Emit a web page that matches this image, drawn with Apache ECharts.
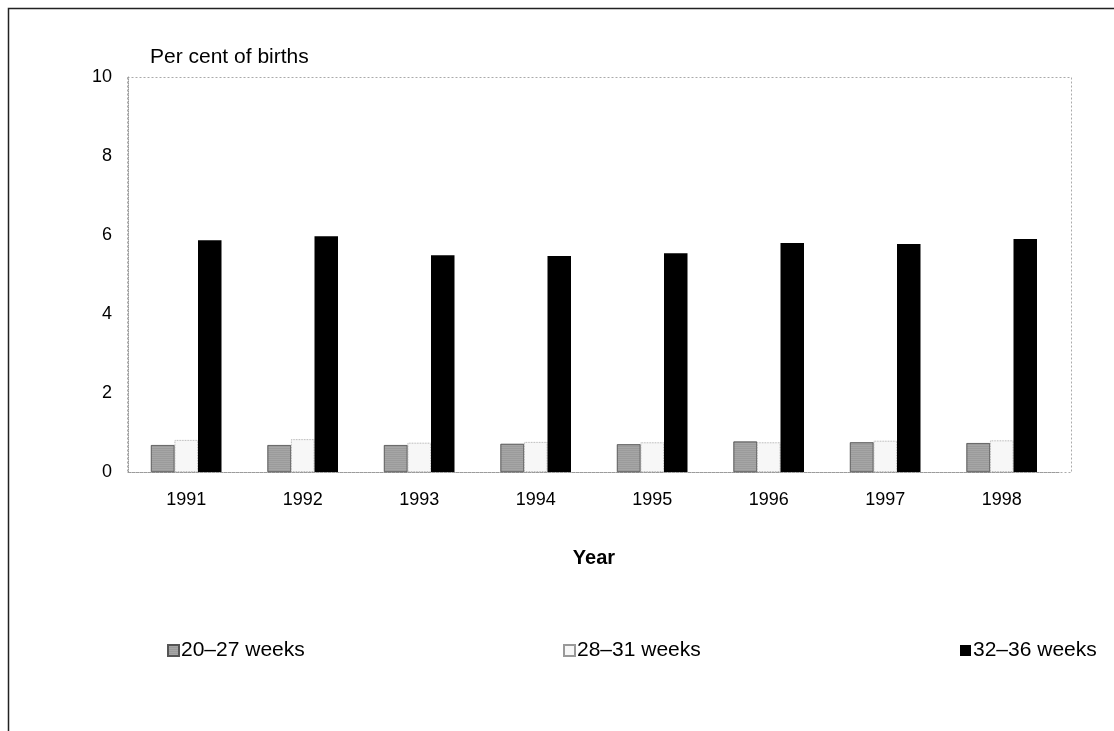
<!DOCTYPE html>
<html>
<head>
<meta charset="utf-8">
<script src="https://cdn.jsdelivr.net/npm/echarts@6/dist/echarts.min.js"></script>
<style>
  html, body { margin: 0; padding: 0; background: #fff; }
  #main { width: 1114px; height: 731px; }
</style>
</head>
<body>
<div id="main"></div>
<script>
// 数据
var years = ['1991', '1992', '1993', '1994', '1995', '1996', '1997', '1998']
var seriesNames = ['20\u201327 weeks', '28\u201331 weeks', '32\u201336 weeks']
var weeks20to27 = [0.68, 0.68, 0.68, 0.71, 0.70, 0.77, 0.75, 0.73]
var weeks28to31 = [0.81, 0.83, 0.74, 0.76, 0.75, 0.75, 0.79, 0.80]
var weeks32to36 = [5.87, 5.97, 5.49, 5.47, 5.54, 5.80, 5.77, 5.90]

var font = 'Liberation Sans, Arial, sans-serif'
var chart = echarts.init(document.getElementById('main'))

function legendAt(left, name) {
  return {
    left: left,
    top: 635,
    data: [name],
    itemWidth: 11,
    itemHeight: 11,
    itemGap: 4,
    icon: 'rect',
    textStyle: { fontSize: 21, fontFamily: font, color: '#000', padding: [0, 0, 0, -3] }
  }
}

chart.setOption({
  animation: false,
  backgroundColor: '#fff',
  textStyle: { fontFamily: font },
  graphic: [{
    // 外框
    type: 'rect',
    shape: { x: 8.5, y: 8.5, width: 1120, height: 740 },
    style: { fill: 'none', stroke: '#222', lineWidth: 1.5 },
    silent: true
  }, {
    // 绘图区虚线框
    type: 'rect',
    shape: { x: 127.5, y: 77.5, width: 944, height: 395 },
    style: { fill: 'none', stroke: '#aaa', lineWidth: 1, lineDash: [2, 2] },
    silent: true,
    z: -1
  }, {
    type: 'text',
    left: 150,
    top: 47,
    style: { text: 'Per cent of births', fontSize: 21, fontFamily: font, fill: '#000' }
  }],
  legend: [
    legendAt(162, seriesNames[0]),
    legendAt(558, seriesNames[1]),
    legendAt(955, seriesNames[2])
  ],
  grid: {
    left: 128,
    right: 54,
    top: 77,
    bottom: 259
  },
  xAxis: {
    type: 'category',
    data: years,
    name: 'Year',
    nameLocation: 'middle',
    nameGap: 76,
    nameTextStyle: { fontSize: 20, fontWeight: 'bold', fontFamily: font, color: '#000' },
    axisTick: { show: false },
    axisLine: { lineStyle: { color: '#999', type: 'dotted' } },
    axisLabel: { fontSize: 18, fontFamily: font, color: '#000', margin: 19 }
  },
  yAxis: {
    type: 'value',
    min: 0,
    max: 10,
    interval: 2,
    splitLine: { show: false },
    axisTick: { show: false },
    axisLine: { show: true, lineStyle: { color: '#999', type: 'dotted' } },
    axisLabel: { fontSize: 18, fontFamily: font, color: '#000', margin: 16 }
  },
  series: [{
    name: seriesNames[0],
    type: 'bar',
    barWidth: 23.5,
    barGap: '0%',
    data: weeks20to27,
    itemStyle: {
      color: '#a6a6a6',
      borderColor: '#555',
      borderWidth: 0.6,
      decal: { symbol: 'rect', symbolSize: 0.6, dashArrayX: [1, 0], dashArrayY: [1, 1], color: 'rgba(60,60,60,0.35)' }
    }
  }, {
    name: seriesNames[1],
    type: 'bar',
    barWidth: 23.5,
    barGap: '0%',
    data: weeks28to31,
    itemStyle: { color: '#f7f7f7', borderColor: '#999', borderWidth: 0.8, borderType: 'dotted' }
  }, {
    name: seriesNames[2],
    type: 'bar',
    barWidth: 23.5,
    barGap: '0%',
    data: weeks32to36,
    itemStyle: { color: '#000' }
  }]
})
</script>
</body>
</html>
